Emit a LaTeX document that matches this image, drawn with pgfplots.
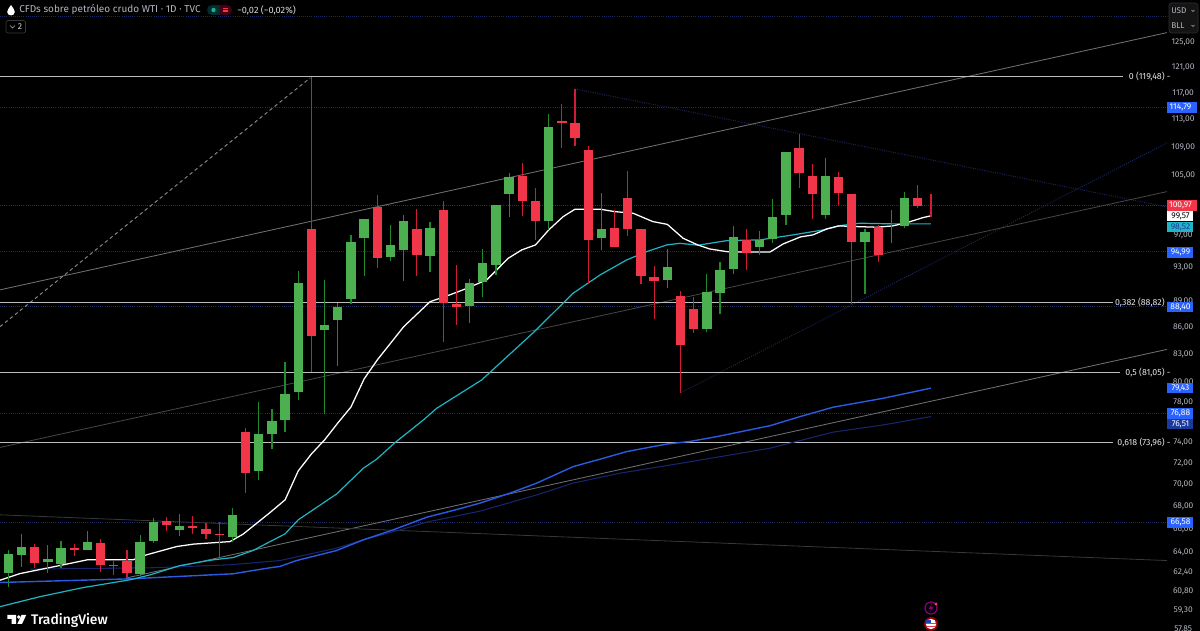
\documentclass[border=0pt]{standalone}
\usepackage{pgfplots}
\usepackage{pgfplotstable}
\usepackage{fontspec}
\setmainfont{Fira Sans}
\newfontfamily\medfont{Fira Sans Medium}
\pgfplotsset{compat=1.18}
\definecolor{cdred}{HTML}{F2364A}
\definecolor{cdgreen}{HTML}{4CAF50}
\definecolor{wkred}{HTML}{D01C34}
\definecolor{wkgreen}{HTML}{1F8A2A}
\definecolor{tvblue}{HTML}{2962FF}
\definecolor{mablue}{HTML}{2A5BE0}
\definecolor{ddblue}{HTML}{17256F}
\definecolor{tagdark}{HTML}{1A3A9C}
\definecolor{dotblue}{HTML}{1E2A66}
\definecolor{dotred}{HTML}{5A1E26}
\definecolor{cy}{HTML}{1FB5C4}
\definecolor{fib}{HTML}{BDBDBD}
\definecolor{axt}{HTML}{B2B5BE}
\definecolor{pilld}{HTML}{22AB94}
\definecolor{chA}{HTML}{6E6E6E}
\definecolor{chB}{HTML}{484848}
\definecolor{chD}{HTML}{383838}
\definecolor{dsh}{HTML}{8C8C8C}
\pgfplotstableread{
i o h l c
0 62.33 64.24 61.21 63.90
1 63.84 65.57 62.84 64.46
3 63.18 64.63 62.30 63.48
4 63.07 64.97 62.71 64.41
6 64.26 65.86 64.26 64.89
10 62.22 65.51 62.08 64.89
11 65.00 66.97 64.80 66.61
13 65.92 67.34 65.45 66.29
17 65.37 67.90 64.91 67.26
19 71.25 77.97 70.41 74.76
20 74.76 77.26 73.31 76.05
21 76.15 82.17 74.99 78.79
22 79.06 92.62 78.23 91.18
24 85.72 91.54 76.78 86.29
25 86.86 88.86 81.80 88.32
26 89.32 97.11 88.70 96.22
27 96.76 99.17 92.06 99.13
29 94.38 98.39 93.85 95.84
30 95.25 99.69 91.42 98.87
32 94.50 98.74 92.54 98.00
35 88.47 91.66 86.48 91.14
36 91.34 95.34 89.48 93.64
37 93.32 100.96 92.14 100.96
38 102.52 105.30 99.43 104.79
41 98.91 113.82 97.74 111.89
45 96.72 102.57 95.21 97.83
50 91.50 95.34 90.55 93.07
53 85.84 92.26 85.50 90.11
54 90.03 93.68 87.58 92.75
55 92.87 98.30 92.26 96.85
57 95.55 97.58 94.63 96.51
58 96.64 101.76 96.13 99.43
59 99.73 108.28 98.39 108.28
62 99.73 107.47 99.13 104.97
65 96.26 97.87 89.84 97.49
67 98.52 100.35 96.13 98.52
68 98.30 102.72 98.00 101.93
}\greencandles
\pgfplotstableread{
i o h l c
2 64.49 64.72 62.76 63.15
5 64.41 64.72 63.68 64.24
7 64.83 65.14 62.43 62.96
8 62.99 63.32 62.16 62.88
9 63.29 64.24 61.94 62.33
12 66.73 67.05 65.86 66.35
14 66.29 67.14 65.57 66.11
15 66.05 66.58 65.17 65.60
16 65.62 66.67 63.59 65.49
18 74.96 75.35 69.20 71.09
23 97.87 119.48 81.16 85.05
28 100.74 102.34 92.95 94.25
31 97.87 100.44 92.06 94.55
33 100.35 101.57 84.35 88.85
34 88.70 93.32 86.29 88.35
39 104.93 106.77 99.56 101.54
40 101.58 103.24 96.47 98.91
42 112.73 115.32 108.89 112.43
43 112.48 117.56 109.13 110.29
44 108.57 109.13 91.06 96.51
46 98.04 100.35 95.63 95.63
47 101.88 105.62 96.98 97.91
48 97.83 97.83 91.06 92.02
49 91.90 93.27 86.97 91.42
51 89.60 90.26 78.95 84.02
52 88.08 89.56 85.42 85.87
56 96.43 97.83 92.71 94.84
60 108.89 110.87 103.28 105.38
61 104.97 106.55 99.21 102.47
63 104.79 105.52 101.00 102.61
64 102.47 102.47 88.73 96.19
66 98.13 98.39 93.77 94.59
69 101.98 103.66 100.61 100.91
70 100.97 102.46 99.47 100.97
}\redcandles
% draw every candle of a table through the axis: wick first, body on top
\newcommand{\candles}[3]{%
  \pgfplotstablegetrowsof{#1}%
  \pgfmathtruncatemacro\lastrow{\pgfplotsretval-1}%
  \pgfplotsforeachungrouped \r in {0,...,\lastrow}{%
    \pgfplotstablegetelem{\r}{i}\of{#1}\let\vi\pgfplotsretval
    \pgfplotstablegetelem{\r}{o}\of{#1}\let\vo\pgfplotsretval
    \pgfplotstablegetelem{\r}{h}\of{#1}\let\vh\pgfplotsretval
    \pgfplotstablegetelem{\r}{l}\of{#1}\let\vl\pgfplotsretval
    \pgfplotstablegetelem{\r}{c}\of{#1}\let\vc\pgfplotsretval
    \edef\cmd{\noexpand\addplot[#2,line width=0.9pt] coordinates {(\vi,\vl)(\vi,\vh)};
      \noexpand\addplot[#3,line width=7pt] coordinates {(\vi,\vo)(\vi,\vc)};}%
    \cmd
  }%
}
\begin{document}
\begin{tikzpicture}
\fill[black] (0,0) rectangle (900pt,473.25pt);
\useasboundingbox (0,0) rectangle (900pt,473.25pt);
\begin{axis}[
  at={(0,0)},anchor=south west,
  scale only axis,width=900pt,height=473.25pt,
  ymode=log,
  xmin=-0.63,xmax=90.417,ymin=57.75,ymax=132.18,
  axis line style={draw=none},
  major tick style={draw=none},minor tick style={draw=none},
  xtick=\empty,
  ytick={125,121,117,113,109,105,97,93,89,86,83,80,78,74,72,70,68,66,64,62.4,60.8,59.3,57.85},
  yticklabels={{125,00},{121,00},{117,00},{113,00},{109,00},{105,00},{97,00},{93,00},{89,00},{86,00},{83,00},{80,00},{78,00},{74,00},{72,00},{70,00},{68,00},{66,00},{64,00},{62,40},{60,80},{59,30},{57,85}},
  yticklabel pos=right,
  yticklabel style={anchor=center,xshift=-12.6pt,text=axt,font=\fontsize{6.3}{7}\selectfont},
  clip=true,
  line cap=butt,
]
% dotted price levels
\addplot[dotblue,densely dotted,line width=0.6pt] coordinates {(-0.63,129.32)(87.91,129.32)};
\addplot[dotblue,densely dotted,line width=0.6pt] coordinates {(-0.63,114.79)(87.91,114.79)};
\addplot[dotblue,densely dotted,line width=0.6pt] coordinates {(-0.63,94.99)(87.91,94.99)};
\addplot[dotblue,densely dotted,line width=0.6pt] coordinates {(-0.63,88.40)(87.91,88.40)};
\addplot[dotblue,densely dotted,line width=0.6pt] coordinates {(-0.63,76.88)(87.91,76.88)};
\addplot[dotblue,densely dotted,line width=0.6pt] coordinates {(-0.63,66.58)(87.91,66.58)};
\addplot[dotred,densely dotted,line width=0.6pt] coordinates {(-0.63,100.97)(87.91,100.97)};
% dotted trend lines
\addplot[dotblue,densely dotted,line width=0.7pt] coordinates {(43,117.61)(87.91,100.74)};
\addplot[dotblue,densely dotted,line width=0.7pt] coordinates {(51,78.95)(87.91,109.57)};
% channel lines
\addplot[chA,line width=0.65pt] coordinates {(-0.63,90.35)(87.91,126.63)};
\addplot[chB,line width=0.6pt] coordinates {(-0.63,73.48)(87.91,102.78)};
\addplot[chA,line width=0.65pt] coordinates {(9.01,61.92)(87.91,83.56)};
\addplot[chD,line width=0.6pt] coordinates {(-0.63,67.26)(87.91,63.34)};
% dashed
\addplot[dsh,dash pattern=on 2.6pt off 2.2pt,line width=0.7pt] coordinates {(-0.63,86.09)(22.9,119.32)};
% fibonacci
\addplot[fib,line width=0.85pt] coordinates {(-0.63,119.48)(84.57,119.48)};
\addplot[fib,line width=0.85pt] coordinates {(-0.63,88.82)(83.8,88.82)};
\addplot[fib,line width=0.85pt] coordinates {(-0.63,81.05)(84.35,81.05)};
\addplot[fib,line width=0.85pt] coordinates {(-0.63,73.96)(83.8,73.96)};
\node[anchor=east,text=white!90!black,font=\fontsize{6.6}{7}\selectfont,inner sep=0pt] at (axis cs:88.2,119.48) {0 (119,48) -};
\node[anchor=east,text=white!90!black,font=\fontsize{6.6}{7}\selectfont,inner sep=0pt] at (axis cs:88.2,88.82) {0,382 (88,82) -};
\node[anchor=east,text=white!90!black,font=\fontsize{6.6}{7}\selectfont,inner sep=0pt] at (axis cs:88.2,81.05) {0,5 (81,05) -};
\node[anchor=east,text=white!90!black,font=\fontsize{6.6}{7}\selectfont,inner sep=0pt] at (axis cs:88.2,73.96) {0,618 (73,96) -};
% moving averages
\addplot[ddblue,line width=0.8pt,line join=round] coordinates {
(1.65,62.63)(10.98,62.74)(16.82,62.99)(20.6,63.34)(24.92,64.38)(26.92,65.08)(29.72,65.94)(31.75,66.62)(35.79,67.58)(40.09,69.04)(42.85,70.11)(46.4,71.04)(51.19,72.00)(53.75,72.54)(57.79,73.40)(60.07,74.14)(62.57,74.97)(66.37,75.68)(70,76.51)};
\addplot[mablue,line width=1.05pt,line join=round] coordinates {
(-0.63,61.54)(9.23,61.84)(17.05,62.25)(19.86,62.74)(20.6,62.85)(21.88,63.34)(24.92,64.18)(26.92,65.08)(29.19,65.94)(31.75,67.05)(33.74,67.64)(35.79,68.30)(38.07,69.20)(40.09,70.11)(42.85,71.65)(44.9,72.35)(46.92,73.08)(49.95,73.81)(51.72,74.06)(53.75,74.53)(57.79,75.61)(60.07,76.51)(62.57,77.46)(66.37,78.38)(70,79.43)};
\addplot[cy,line width=0.9pt,line join=round] coordinates {
(-0.63,59.62)(2.4,60.41)(5.67,61.13)(9.23,61.76)(10.75,62.16)(13.03,62.93)(15.55,63.40)(17.05,63.59)(18.57,64.18)(21,65.60)(22,66.82)(24.92,69.13)(26.94,71.50)(27.95,72.35)(29.34,73.95)(31.49,76.18)(32.5,77.36)(35.92,80.28)(39.81,85.39)(42.85,89.95)(44.9,92.14)(46.92,93.97)(48.44,95.00)(49.95,95.84)(50.96,96.04)(52.33,95.80)(54.5,96.38)(57.03,96.47)(59.54,97.11)(61.81,97.74)(63.1,98.30)(64.62,98.61)(67.13,98.52)(70,98.52)};
\addplot[white,line width=0.95pt,line join=round] coordinates {
(-0.63,61.73)(0.89,62.27)(3.92,62.93)(6,63.40)(9.46,63.40)(10.5,63.82)(12.78,64.52)(14.04,64.72)(16.82,64.94)(17.81,65.57)(19.86,67.46)(21,68.59)(22,71.25)(23,72.86)(24,74.21)(25,75.88)(26,77.49)(27,80.39)(28,82.42)(30,86.09)(32,88.96)(33.5,89.76)(34.5,90.35)(36.3,91.54)(37.94,94.18)(38.95,95.21)(40,95.84)(41,97.74)(42.1,99.47)(43,100.44)(44.9,100.44)(46,100.12)(47.4,99.91)(48.9,98.82)(50,98.46)(51.2,96.68)(52.3,95.84)(53.2,95.34)(54.5,95.00)(55.5,94.96)(57.8,94.96)(58.8,95.97)(60.1,96.85)(61.05,97.11)(62.1,97.87)(63,98.26)(64.4,98.17)(65.9,98.09)(67.1,98.26)(68.2,98.69)(69.4,99.34)(70,99.57)};
% candles
\candles{\greencandles}{wkgreen}{cdgreen}
\candles{\redcandles}{wkred}{cdred}
\end{axis}
\begin{scope}[shift={(0,473.25pt)},x=0.75pt,y=-0.75pt]
  % header
  \fill[white] (11,5) .. controls (9,8) and (7.2,10) .. (7.2,12) .. controls (7.2,16.5) and (14.8,16.5) .. (14.8,12) .. controls (14.8,10) and (13,8) .. (11,5) -- cycle;
  \node[anchor=west,inner sep=0pt,text=axt,font=\fontsize{7.5}{9}\selectfont] at (19,10) {CFDs sobre petróleo crudo WTI · 1D · TVC};
  \fill[teal!35!black,rounded corners=3.7pt] (207,5) rectangle (222,15);
  \fill[purple!35!black,rounded corners=3.7pt] (217,5) rectangle (232,15);
  \fill[teal!35!black] (213,5) rectangle (219.5,15);
  \fill[pilld] (213.5,10) circle[radius=2.2];
  \draw[cdred,line width=0.5pt] (222.5,8.5) -- (228,8.5) (222.5,10) -- (228,10) (222.5,11.5) -- (228,11.5);
  \node[anchor=west,inner sep=0pt,text=white!85!black,font=\fontsize{6.9}{9}\selectfont] at (237,10) {−0,02 (−0,02\%)};
  \draw[white!22!black,line width=0.5pt,rounded corners=1.5pt] (6,20.5) rectangle (25.5,33);
  \draw[axt,line width=0.5pt] (10,25.5) -- (12.5,28) -- (15,25.5);
  \node[anchor=west,inner sep=0pt,text=white!85!black,font=\fontsize{6.4}{8}\selectfont] at (17.5,26.8) {2};
  % currency box
  \fill[white!8!black,rounded corners=2pt] (1169,3) rectangle (1198,33);
  \draw[white!18!black,line width=0.5pt,rounded corners=2pt] (1169,3) rectangle (1198,33);
  \node[anchor=west,inner sep=0pt,text=axt,font=\fontsize{6.2}{7}\selectfont] at (1171,10.5) {USD};
  \node[anchor=west,inner sep=0pt,text=axt,font=\fontsize{6.2}{7}\selectfont] at (1171,25.5) {BLL};
  \draw[axt,line width=0.4pt] (1191.5,10) -- (1193,11.5) -- (1194.5,10) (1191.5,25) -- (1193,26.5) -- (1194.5,25);
  % price tags
  \foreach \a/\b/\yc/\bg/\fg/\txt in {1167/1197/107.5/tvblue/white/114{,}79,
      1167/1197/205.5/cdred/white/100{,}97,
      1167/1193/216/white/black/99{,}57,
      1167/1193/227/cy/tagdark/98{,}52,
      1167/1193/252.5/tvblue/white/94{,}99,
      1167/1193/307/tvblue/white/88{,}40,
      1167/1193/388/tvblue/white/79{,}43,
      1167/1193/413.7/tvblue/white/76{,}88,
      1167/1193/424/tagdark/white/76{,}51,
      1167/1193/522.5/tvblue/white/66{,}58}{
    \fill[\bg] (\a,\yc-5.3) rectangle (\b,\yc+5.3);
    \node[inner sep=0pt,text=\fg,font=\fontsize{6.3}{7}\selectfont] at (1180.5,\yc) {\txt};
  }
  % TradingView logo
  \fill[white] (7.3,615) -- (16,615) -- (16,624) -- (11.6,624) -- (11.6,619) -- (7.3,619) -- cycle;
  \fill[white] (18.8,617) circle[radius=1.9];
  \fill[white] (21.5,615) -- (26.2,615) -- (22,624) -- (17.3,624) -- cycle;
  \node[anchor=west,inner sep=0pt,text=white,font=\medfont\fontsize{10.4}{12}\selectfont] at (30.8,620) {TradingView};
  % event icons
  \draw[purple!70!blue,line width=0.9pt] (931,608) circle[radius=6];
  \fill[purple!70!blue] (932,603.5) -- (928.5,609) -- (931,609) -- (930,612.5) -- (933.5,607) -- (931,607) -- cycle;
  \fill[cdred] (936,604) circle[radius=1.6];
  \fill[red!60!black] (931,624) circle[radius=7];
  \fill[white] (931,624) circle[radius=5.2];
  \fill[cdred] (925.9,623) rectangle (936.1,624.3);
  \fill[cdred] (926.5,626.2) rectangle (935.5,627.5);
  \fill[tvblue!70!black] (926.2,620) rectangle (931,623);
\end{scope}
\end{tikzpicture}
\end{document}
